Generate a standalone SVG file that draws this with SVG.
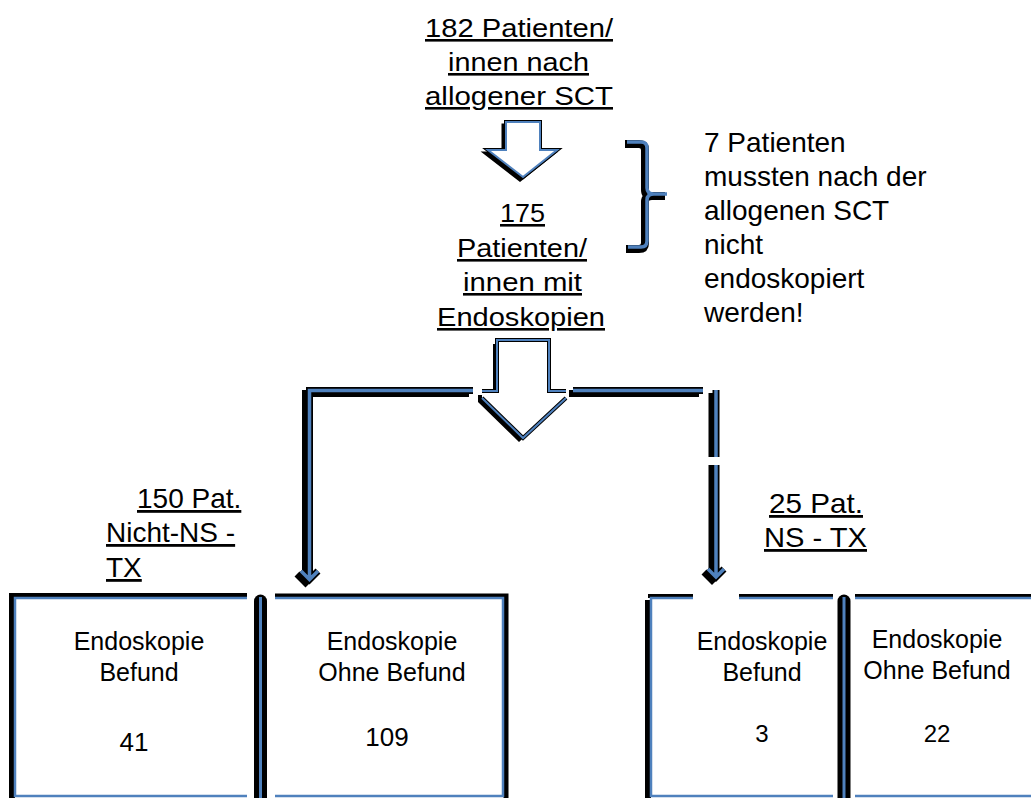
<svg xmlns="http://www.w3.org/2000/svg" width="1031" height="798" viewBox="0 0 1031 798">
<style>
text { font-family: "Liberation Sans", Arial, sans-serif; fill: #000; }
.u { text-decoration: underline; }
.c { text-anchor: middle; }
.t27 { font-size: 26px; }
.t28 { font-size: 28px; }
.t25 { font-size: 25px; }
.sh { fill: none; stroke: #000; stroke-width: 7; }
.bl { fill: none; stroke: #4f81bd; stroke-width: 3.5; }
.bxk { fill: none; stroke: #000; stroke-width: 5; }
.bxb { fill: none; stroke: #4f81bd; stroke-width: 2.5; }
.barK { fill: none; stroke: #000; stroke-width: 13; stroke-linecap: round; }
.barB { fill: none; stroke: #4f81bd; stroke-width: 3; }
</style>
<rect width="1031" height="798" fill="#fff"/>

<g id="connectors">
  <!-- hollow arrow 1 -->
  <g id="arrow-top">
    <polygon points="506,122 540,122 540,150 557,150 523,177 488,150 506,150" fill="#000" stroke="#000" stroke-width="3" transform="translate(-3,3)"/>
    <polygon points="506,122 540,122 540,150 557,150 523,177 488,150 506,150" fill="#fff" stroke="#000" stroke-width="4"/>
    <polygon points="506,122 540,122 540,150 557,150 523,177 488,150 506,150" fill="#fff" stroke="#4f81bd" stroke-width="2"/>
  </g>
  <!-- branch lines -->
  <g id="branch-left">
    <path class="sh" d="M473,390.5 H309.5 V579 M301,571 L309.5,579.5 L318,571" transform="translate(-4,3)"/>
    <path class="sh" d="M473,390.5 H309.5 V579 M301,571 L309.5,579.5 L318,571"/>
    <path class="bl" d="M473,390.5 H309.5 V579 M301,571 L309.5,579.5 L318,571"/>
  </g>
  <g id="branch-right">
    <path class="sh" d="M573,390.5 H703 M716,390 V577 M708,569 L716,577 L724,569" transform="translate(-4,3)"/>
    <path class="sh" d="M573,390.5 H703 M716,390 V577 M708,569 L716,577 L724,569"/>
    <path class="bl" d="M573,390.5 H703 M716,390 V577 M708,569 L716,577 L724,569"/>
    <rect x="700" y="457" width="28" height="8" fill="#fff"/>
  </g>
  <!-- hollow arrow 2 -->
  <g id="arrow-split">
    <polygon points="497,340 549,340 549,391 566,391 566,398 523,438 482,398 482,391 497,391" fill="#000" transform="translate(-4,4)"/>
    <polygon points="497,340 549,340 549,391 566,391 566,398 523,438 482,398 482,391 497,391" fill="#fff"/>
    <path d="M482,391 H497 V340 H549 V391 H566 M482,398 L523,438 L566,398" fill="none" stroke="#000" stroke-width="4"/>
    <path d="M482,391 H497 V340 H549 V391 H566 M482,398 L523,438 L566,398" fill="none" stroke="#4f81bd" stroke-width="2"/>
  </g>
  <!-- brace -->
  <g id="brace">
    <path d="M627,142 H641 Q647,142 647,148 V188 Q647,194 654,194 H667 M654,194 Q647,194 647,200 V241 Q647,247 641,247 H628" fill="none" stroke="#000" stroke-width="8" transform="translate(-2,2)"/>
    <path d="M627,142 H641 Q647,142 647,148 V188 Q647,194 654,194 H667 M654,194 Q647,194 647,200 V241 Q647,247 641,247 H628" fill="none" stroke="#4f81bd" stroke-width="3.5"/>
  </g>
</g>

<g id="node-start">
  <text class="t27 u c" x="519" y="37" textLength="188" lengthAdjust="spacingAndGlyphs">182 Patienten/</text>
  <text class="t27 u c" x="518.5" y="71" textLength="141" lengthAdjust="spacingAndGlyphs">innen nach</text>
  <text class="t27 u c" x="519" y="105" textLength="188" lengthAdjust="spacingAndGlyphs">allogener SCT</text>
</g>

<g id="node-endoscopies">
  <text class="t27 u c" x="522.5" y="222" textLength="45" lengthAdjust="spacingAndGlyphs">175</text>
  <text class="t27 u c" x="522" y="257" textLength="130" lengthAdjust="spacingAndGlyphs">Patienten/</text>
  <text class="t27 u c" x="522.5" y="291" textLength="119" lengthAdjust="spacingAndGlyphs">innen mit</text>
  <text class="t27 u c" x="521" y="326" textLength="168" lengthAdjust="spacingAndGlyphs">Endoskopien</text>
</g>

<g id="node-note">
  <text class="t28" x="704" y="152">7 Patienten</text>
  <text class="t28" x="704" y="186">mussten nach der</text>
  <text class="t28" x="704" y="220">allogenen SCT</text>
  <text class="t28" x="704" y="254">nicht</text>
  <text class="t28" x="704" y="288">endoskopiert</text>
  <text class="t28" x="704" y="322">werden!</text>
</g>

<g id="label-left">
  <text class="t28 u" x="137" y="508">150 Pat.</text>
  <text class="t28 u" x="106" y="542">Nicht-NS -</text>
  <text class="t28 u" x="106" y="577">TX</text>
</g>

<g id="label-right">
  <text class="t28 u" x="769" y="513" textLength="94" lengthAdjust="spacingAndGlyphs">25 Pat.</text>
  <text class="t28 u" x="764" y="547" textLength="103" lengthAdjust="spacingAndGlyphs">NS - TX</text>
</g>

<g id="box-1">
  <path class="bxk" d="M247,596 H12 V800" style="stroke-width:6"/>
  <path class="bxb" d="M247,598 H15 V796 H247"/>
  <text class="t25 c" x="139" y="650">Endoskopie</text>
  <text class="t25 c" x="139" y="681">Befund</text>
  <text class="c" x="134" y="751" style="font-size:26px">41</text>
</g>

<g id="divider-1">
  <path class="barK" d="M260.5,601 V805"/>
  <path class="barB" d="M260.5,597 V800"/>
</g>

<g id="box-2">
  <path class="bxk" d="M275,596 H506 V800"/>
  <path class="bxb" d="M275,598 H503 V796 H275"/>
  <text class="t25 c" x="392" y="650">Endoskopie</text>
  <text class="t25 c" x="392" y="681">Ohne Befund</text>
  <text class="c" x="387" y="746" style="font-size:26px">109</text>
</g>

<g id="box-3">
  <path class="bxk" d="M648,600 V800" style="stroke-width:6"/>
  <path class="bxk" d="M648,596 H693 M739,596 H833" style="stroke-width:4"/>
  <path class="bxb" d="M693,598 H651 V796 H833 M739,598 H833"/>
  <text class="t25 c" x="762" y="650">Endoskopie</text>
  <text class="t25 c" x="762" y="681">Befund</text>
  <text class="c" x="762" y="742" style="font-size:24px">3</text>
</g>

<g id="divider-2">
  <path class="barK" d="M844,601 V805"/>
  <path class="barB" d="M844,597 V800"/>
</g>

<g id="box-4">
  <path class="bxk" d="M855,596 H1035" style="stroke-width:4"/>
  <path class="bxb" d="M855,598 H1035 M855,796 H1035"/>
  <text class="t25 c" x="937" y="648">Endoskopie</text>
  <text class="t25 c" x="937" y="679">Ohne Befund</text>
  <text class="c" x="937" y="742" style="font-size:24px">22</text>
</g>
</svg>
